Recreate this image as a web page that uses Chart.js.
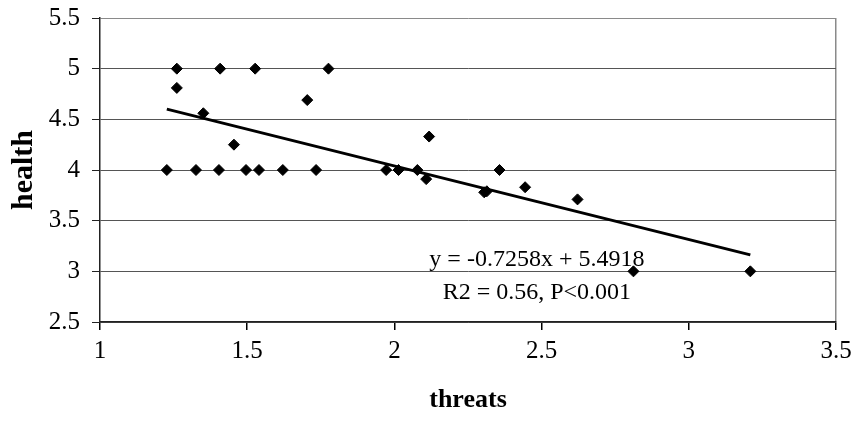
<!DOCTYPE html>
<html>
<head>
<meta charset="utf-8">
<script src="https://cdn.jsdelivr.net/npm/chart.js@4/dist/chart.umd.min.js"></script>
<style>
  html, body { margin: 0; padding: 0; background: #fff; }
  #wrap { width: 853px; height: 423px; }
</style>
</head>
<body>
<div id="wrap"><canvas id="chart" width="853" height="423"></canvas></div>
<script>
// =====================
// Data
// =====================
const threats = [
  1.261, 1.408, 1.527, 1.776,
  1.261, 1.704, 1.351, 1.455,
  1.227, 1.326, 1.404, 1.496, 1.540, 1.621, 1.734, 1.972,
  2.014, 2.078, 2.108, 2.118, 2.357, 2.305, 2.314, 2.444,
  2.622, 2.812, 3.209
];
const health = [
  5, 5, 5, 5,
  4.81, 4.69, 4.56, 4.25,
  4, 4, 4, 4, 4, 4, 4, 4,
  4, 4, 3.91, 4.33, 4, 3.78, 3.79, 3.83,
  3.71, 3, 3
];
// trend line end points
const trendX = [1.227, 3.209];
const trendY = [4.601, 3.162];

const xTicks = [1, 1.5, 2, 2.5, 3, 3.5];
const yTicks = [2.5, 3, 3.5, 4, 4.5, 5, 5.5];

const equationText = "y = -0.7258x + 5.4918";
const statsText = "R2 = 0.56, P<0.001";

// =====================
// Helpers
// =====================
const serif = "'Liberation Serif', 'Times New Roman', serif";

const annotate = {
  id: "annotate",
  afterDatasetsDraw(chart) {
    const { ctx, scales } = chart;
    ctx.save();
    ctx.fillStyle = "#000";
    ctx.font = "24px " + serif;
    ctx.textAlign = "center";
    ctx.textBaseline = "middle";
    ctx.fillText(equationText, scales.x.getPixelForValue(2.484), scales.y.getPixelForValue(3.11));
    ctx.fillText(statsText, scales.x.getPixelForValue(2.484), scales.y.getPixelForValue(2.785));
    ctx.restore();
  }
};

// =====================
// Chart.js
// =====================
const ctx = document.getElementById("chart").getContext("2d");
new Chart(ctx, {
  type: "scatter",
  data: {
    datasets: [
      {
        label: "health",
        data: threats.map((x, i) => ({ x: x, y: health[i] })),
        pointStyle: "rectRot",
        pointRadius: 5.5,
        backgroundColor: "#000",
        borderColor: "#000",
        borderWidth: 1
      },
      {
        type: "line",
        label: "trend",
        data: trendX.map((x, i) => ({ x: x, y: trendY[i] })),
        borderColor: "#000",
        borderWidth: 3,
        pointRadius: 0,
        fill: false
      }
    ]
  },
  options: {
    responsive: false,
    animation: false,
    layout: { padding: { top: 18, right: 17, left: 0, bottom: 0 } },
    plugins: { legend: { display: false }, tooltip: { enabled: false } },
    scales: {
      x: {
        type: "linear",
        min: 1,
        max: 3.5,
        afterFit: s => { s.height = 101; s.paddingLeft = 0; s.paddingRight = 0; },
        afterBuildTicks: s => { s.ticks = xTicks.map(v => ({ value: v })); },
        grid: {
          color: c => (c.tick && c.tick.value === 3.5 ? "#8a8a8a" : "rgba(0,0,0,0)"),
          tickColor: "#000",
          tickLength: 8,
          lineWidth: 1.5
        },
        border: { color: "#222", width: 1.5 },
        ticks: {
          color: "#000",
          font: { family: serif, size: 25 },
          padding: 6,
          maxRotation: 0,
          callback: v => String(v)
        },
        title: {
          display: true,
          text: "threats",
          color: "#000",
          font: { family: serif, size: 26, weight: "bold" },
          padding: { top: 0, bottom: 7 }
        }
      },
      y: {
        type: "linear",
        min: 2.5,
        max: 5.5,
        afterFit: s => { s.width = 100; s.paddingTop = 0; s.paddingBottom = 0; },
        afterBuildTicks: s => { s.ticks = yTicks.map(v => ({ value: v })); },
        grid: { color: c => (c.tick && c.tick.value === 5.5 ? "#8a8a8a" : "#555"), tickColor: "#222", tickLength: 8, lineWidth: 1 },
        border: { color: "#222", width: 1.5 },
        ticks: {
          color: "#000",
          font: { family: serif, size: 25 },
          padding: 12,
          callback: v => String(v)
        },
        title: {
          display: true,
          text: "health",
          color: "#000",
          font: { family: serif, size: 30, weight: "bold" },
          padding: { top: 6, bottom: 0 }
        }
      }
    }
  },
  plugins: [annotate]
});
</script>
</body>
</html>
